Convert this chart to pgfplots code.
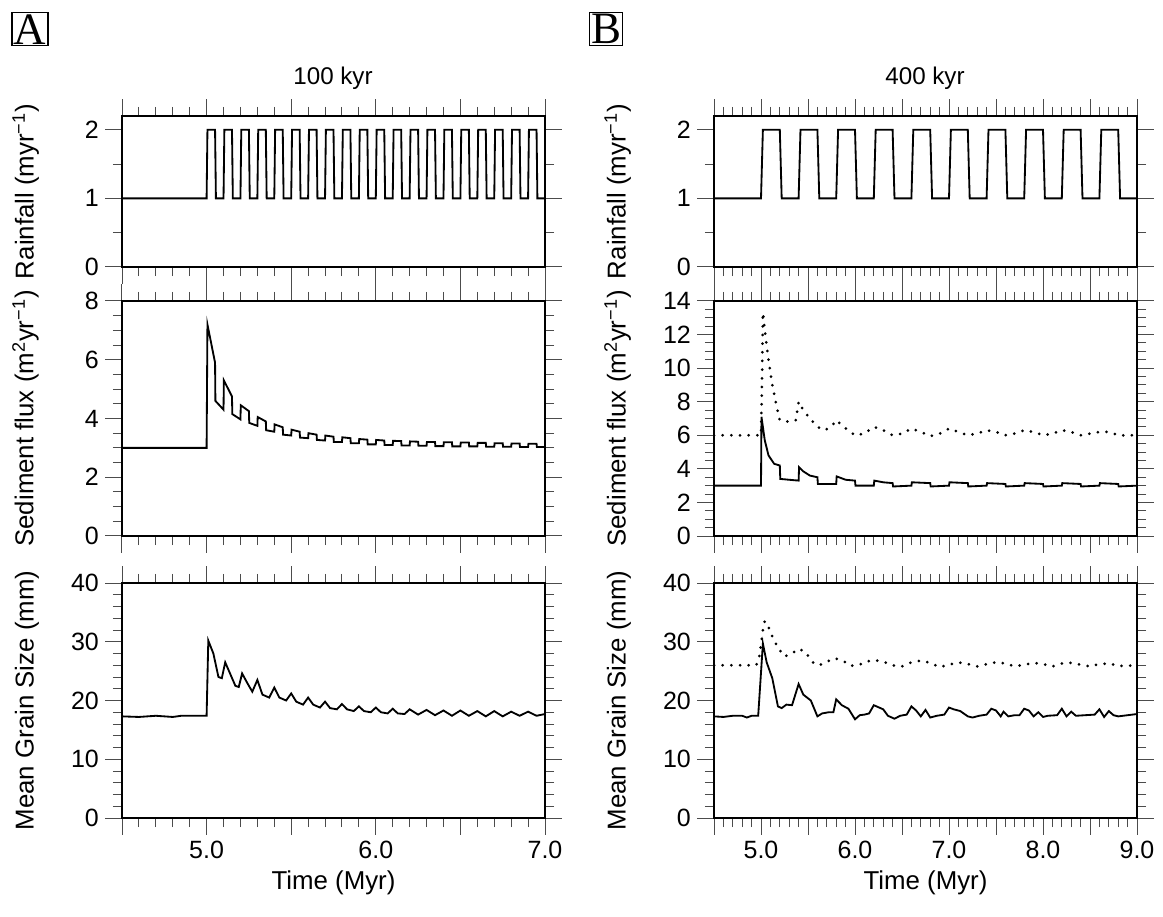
\documentclass[border=0pt]{standalone}
\usepackage{pgfplots}
\pgfplotsset{compat=1.18}
\usepackage{fontspec}
\setmainfont{Liberation Sans}
\newfontfamily\seriffont{Liberation Serif}
\pgfplotsset{
  base/.style={scale only axis, width=253.8pt, anchor=north west,
    xmin=4.5, tick align=outside, line width=1.1pt,
    major tick length=10pt, minor tick length=5.5pt,
    every tick/.style={line width=0.6pt, black!70},
    minor x tick num=4, minor y tick num=1,
    tick label style={font=\fontsize{15}{18}\selectfont},
    label style={font=\fontsize{15.5}{18}\selectfont},
    /pgf/number format/assume math mode=true,
    every axis y label/.style={at={(axis description cs:0,0.5)}, rotate=90, anchor=south, yshift=46pt, font=\fontsize{15.5}{18}\selectfont},
    cycle list={{black, no markers, solid}},
    every axis plot/.append style={line width=1.1pt, black, no markers}},
  colA/.style={base, xmax=7.0, xtick={4.5,5.0,5.5,6.0,6.5,7.0}},
  colB/.style={base, xmax=9.0, xtick={4.5,5.0,5.5,6.0,6.5,7.0,7.5,8.0,8.5,9.0}},
  dots/.style={black, no markers, line width=1.8pt, dash pattern=on 0pt off 5.2pt, line cap=round},
}
\begin{document}
\begin{tikzpicture}
\path[use as bounding box] (0,0) rectangle (697.8pt,-550.2pt);
\node[draw, line width=0.9pt, inner sep=1pt, font=\seriffont\fontsize{27}{29}\selectfont] at (18pt,-17.5pt) {A};
\node[draw, line width=0.9pt, inner sep=1pt, font=\seriffont\fontsize{27}{29}\selectfont] at (363.6pt,-17.5pt) {B};
\node[font=\fontsize{14.5}{16}\selectfont] at (199.8pt,-46.8pt) {100 kyr};
\node[font=\fontsize{14.5}{16}\selectfont] at (555pt,-46.8pt) {400 kyr};
% ---------- Column A
\begin{axis}[colA, at={(73.2pt,-69.6pt)}, height=90.6pt, ymin=0, ymax=2.2, ytick={0,1,2}, minor ytick={0.5,1.5}, minor y tick num=0,
  xticklabels={}, ylabel={Rainfall (myr\textsuperscript{−1})}]
\addplot coordinates {(4.5,1)(5.0,1)(5.005,2)(5.05,2)(5.055,1)(5.1,1)(5.105,2)(5.15,2)(5.155,1)(5.2,1)(5.205,2)(5.25,2)(5.255,1)(5.3,1)(5.305,2)(5.35,2)(5.355,1)(5.4,1)(5.405,2)(5.45,2)(5.455,1)(5.5,1)(5.505,2)(5.55,2)(5.555,1)(5.6,1)(5.605,2)(5.65,2)(5.655,1)(5.7,1)(5.705,2)(5.75,2)(5.755,1)(5.8,1)(5.805,2)(5.85,2)(5.855,1)(5.9,1)(5.905,2)(5.95,2)(5.955,1)(6.0,1)(6.005,2)(6.05,2)(6.055,1)(6.1,1)(6.105,2)(6.15,2)(6.155,1)(6.2,1)(6.205,2)(6.25,2)(6.255,1)(6.3,1)(6.305,2)(6.35,2)(6.355,1)(6.4,1)(6.405,2)(6.45,2)(6.455,1)(6.5,1)(6.505,2)(6.55,2)(6.555,1)(6.6,1)(6.605,2)(6.65,2)(6.655,1)(6.7,1)(6.705,2)(6.75,2)(6.755,1)(6.8,1)(6.805,2)(6.85,2)(6.855,1)(6.9,1)(6.905,2)(6.95,2)(6.955,1)(7.0,1)};
\end{axis}
\begin{axis}[colA, at={(73.2pt,-180.6pt)}, height=141pt, ymin=0, ymax=8, ytick={0,2,4,6,8}, minor y tick num=3,
  xticklabels={}, ylabel={Sediment flux (m\textsuperscript{2}yr\textsuperscript{−1})}]
\addplot coordinates {(4.5,3)(5.0,3)(5.005,7.2)(5.05,5.9)(5.052,4.6)(5.1,4.3)(5.102,5.3)(5.15,4.75)(5.152,4.15)(5.2,3.97)(5.202,4.45)(5.25,4.25)(5.252,3.85)(5.3,3.75)(5.302,4.05)(5.35,3.9)(5.352,3.6)(5.4,3.55)(5.402,3.8)(5.45,3.7)(5.452,3.45)(5.5,3.42)(5.502,3.62)(5.55,3.55)(5.552,3.35)(5.6,3.33)(5.602,3.5)(5.65,3.45)(5.652,3.27)(5.7,3.25)(5.702,3.42)(5.75,3.38)(5.752,3.2)(5.8,3.2)(5.802,3.36)(5.85,3.33)(5.852,3.16)(5.9,3.16)(5.902,3.3)(5.95,3.28)(5.952,3.12)(6.0,3.12)(6.002,3.27)(6.05,3.25)(6.052,3.1)(6.1,3.1)(6.102,3.24)(6.15,3.23)(6.152,3.08)(6.2,3.08)(6.202,3.22)(6.25,3.21)(6.252,3.07)(6.3,3.07)(6.302,3.2)(6.35,3.2)(6.352,3.06)(6.4,3.06)(6.402,3.19)(6.45,3.19)(6.452,3.05)(6.5,3.05)(6.502,3.18)(6.55,3.18)(6.552,3.05)(6.6,3.05)(6.602,3.17)(6.65,3.17)(6.652,3.04)(6.7,3.04)(6.702,3.16)(6.75,3.16)(6.752,3.04)(6.8,3.04)(6.802,3.15)(6.85,3.15)(6.852,3.03)(6.9,3.03)(6.902,3.14)(6.95,3.14)(6.952,3.03)(7.0,3.03)};
\end{axis}
\begin{axis}[colA, at={(73.2pt,-349.8pt)}, height=141pt, ymin=0, ymax=40, ytick={0,10,20,30,40}, minor y tick num=4,
  xticklabels={,5.0,,6.0,,7.0}, xlabel={Time (Myr)}, ylabel={Mean Grain Size (mm)}]
\addplot coordinates {(4.5,17.3)(4.6,17.2)(4.7,17.4)(4.8,17.2)(4.85,17.4)(4.95,17.4)(5.0,17.4)(5.01,30.2)(5.04,28)(5.07,24)(5.09,23.8)(5.11,26.5)(5.14,24.5)(5.17,22.5)(5.19,22.3)(5.21,24.6)(5.24,23)(5.27,21.5)(5.3,23.5)(5.33,21)(5.37,20.5)(5.4,22.2)(5.43,20.5)(5.47,20)(5.5,21.2)(5.53,19.8)(5.57,19.3)(5.6,20.5)(5.63,19.3)(5.67,18.8)(5.7,19.8)(5.73,18.7)(5.77,18.5)(5.8,19.4)(5.83,18.5)(5.87,18.2)(5.9,19)(5.93,18.2)(5.97,18)(6.0,18.8)(6.03,18)(6.07,17.8)(6.1,18.6)(6.13,17.8)(6.17,17.7)(6.2,18.5)(6.25,17.6)(6.3,18.4)(6.35,17.5)(6.4,18.3)(6.45,17.4)(6.5,18.3)(6.55,17.4)(6.6,18.2)(6.65,17.3)(6.7,18.2)(6.75,17.3)(6.8,18.1)(6.85,17.4)(6.9,18.1)(6.95,17.4)(7.0,17.7)};
\end{axis}
% ---------- Column B
\begin{axis}[colB, at={(428.4pt,-69.6pt)}, height=90.6pt, ymin=0, ymax=2.2, ytick={0,1,2}, minor ytick={0.5,1.5}, minor y tick num=0,
  xticklabels={}, ylabel={Rainfall (myr\textsuperscript{−1})}]
\addplot coordinates {(4.5,1)(5.0,1)(5.02,2)(5.2,2)(5.22,1)(5.4,1)(5.42,2)(5.6,2)(5.62,1)(5.8,1)(5.82,2)(6.0,2)(6.02,1)(6.2,1)(6.22,2)(6.4,2)(6.42,1)(6.6,1)(6.62,2)(6.8,2)(6.82,1)(7.0,1)(7.02,2)(7.2,2)(7.22,1)(7.4,1)(7.42,2)(7.6,2)(7.62,1)(7.8,1)(7.82,2)(8.0,2)(8.02,1)(8.2,1)(8.22,2)(8.4,2)(8.42,1)(8.6,1)(8.62,2)(8.8,2)(8.82,1)(9.0,1)};
\end{axis}
\begin{axis}[colB, at={(428.4pt,-180.6pt)}, height=141pt, ymin=0, ymax=14, ytick={0,2,4,6,8,10,12,14}, minor y tick num=3,
  xticklabels={}, ylabel={Sediment flux (m\textsuperscript{2}yr\textsuperscript{−1})}]
\addplot[dots] coordinates {(4.5,6)(5.0,6)(5.01,9)(5.02,13.3)(5.05,11.8)(5.08,10.5)(5.12,9)(5.17,7.6)(5.2,6.9)(5.3,6.8)(5.37,6.9)(5.4,8.0)(5.45,7.5)(5.52,7.0)(5.6,6.5)(5.68,6.3)(5.76,6.6)(5.8,6.9)(5.88,6.5)(5.95,6.2)(6.0,6.0)(6.1,6.1)(6.2,6.5)(6.3,6.3)(6.4,6.0)(6.5,6.1)(6.6,6.4)(6.7,6.2)(6.8,5.95)(6.9,6.1)(7.0,6.4)(7.1,6.2)(7.2,6.0)(7.3,6.1)(7.4,6.3)(7.5,6.2)(7.6,6.0)(7.7,6.1)(7.8,6.3)(7.9,6.2)(8.0,6.0)(8.1,6.1)(8.2,6.3)(8.3,6.2)(8.4,6.0)(8.5,6.1)(8.6,6.2)(8.7,6.2)(8.8,6.0)(9.0,6.0)};
\addplot coordinates {(4.5,3)(5.0,3)(5.005,7.1)(5.04,5.7)(5.08,4.8)(5.14,4.3)(5.2,4.2)(5.205,3.4)(5.3,3.35)(5.4,3.3)(5.405,4.1)(5.45,3.85)(5.52,3.6)(5.6,3.5)(5.605,3.1)(5.8,3.1)(5.805,3.55)(5.9,3.35)(6.0,3.3)(6.005,3.0)(6.2,3.0)(6.205,3.3)(6.3,3.2)(6.4,3.15)(6.405,2.95)(6.6,3.0)(6.605,3.2)(6.8,3.15)(6.805,2.95)(7.0,3.0)(7.005,3.2)(7.2,3.15)(7.205,2.95)(7.4,3.0)(7.405,3.15)(7.6,3.1)(7.605,2.95)(7.8,3.0)(7.805,3.15)(8.0,3.1)(8.005,2.95)(8.2,3.0)(8.205,3.15)(8.4,3.1)(8.405,2.95)(8.6,3.0)(8.605,3.15)(8.8,3.1)(8.805,2.95)(9.0,3.0)};
\end{axis}
\begin{axis}[colB, at={(428.4pt,-349.8pt)}, height=141pt, ymin=0, ymax=40, ytick={0,10,20,30,40}, minor y tick num=4,
  xticklabels={,5.0,,6.0,,7.0,,8.0,,9.0}, xlabel={Time (Myr)}, ylabel={Mean Grain Size (mm)}]
\addplot[dots] coordinates {(4.5,26)(4.95,26)(4.98,27.3)(5.0,29.5)(5.02,32)(5.04,33.5)(5.08,32.5)(5.13,30.5)(5.18,29)(5.25,27.5)(5.32,27.9)(5.4,28.8)(5.47,28.3)(5.55,26.5)(5.62,26)(5.7,26.6)(5.78,27.2)(5.88,26.7)(5.95,25.9)(6.05,26.1)(6.12,26.6)(6.2,26.9)(6.3,26.6)(6.4,26.0)(6.5,25.8)(6.6,26.5)(6.7,26.8)(6.8,26.4)(6.9,25.7)(7.0,26.1)(7.1,26.5)(7.2,26.2)(7.3,25.8)(7.4,26.2)(7.5,26.5)(7.6,26.3)(7.7,25.8)(7.8,26.1)(7.9,26.4)(8.0,26.2)(8.1,25.8)(8.2,26.3)(8.3,26.4)(8.4,26.1)(8.5,25.8)(8.6,26.2)(8.7,26.3)(8.8,25.9)(8.9,25.9)(9.0,26.0)};
\addplot coordinates {(4.5,17.3)(4.6,17.2)(4.7,17.4)(4.8,17.4)(4.85,17.1)(4.9,17.4)(4.97,17.4)(5.02,29.7)(5.06,26.5)(5.12,23.8)(5.18,19)(5.22,18.7)(5.27,19.3)(5.33,19.2)(5.4,22.8)(5.45,21)(5.53,20)(5.6,17.3)(5.65,17.8)(5.72,18)(5.77,18)(5.8,20.2)(5.86,19.2)(5.93,18.6)(6.0,16.8)(6.05,17.5)(6.1,17.6)(6.15,17.8)(6.2,19.2)(6.3,18.5)(6.35,17.4)(6.42,16.9)(6.48,17.4)(6.55,17.6)(6.6,19.0)(6.65,18.3)(6.7,17.3)(6.75,18.4)(6.8,17.1)(6.87,17.4)(6.95,17.6)(7.0,18.8)(7.05,18.5)(7.12,18.2)(7.2,17.3)(7.25,17.1)(7.32,17.4)(7.4,17.6)(7.45,18.6)(7.5,18.3)(7.55,17.3)(7.58,18.1)(7.63,17.3)(7.7,17.5)(7.75,17.5)(7.8,18.6)(7.85,18.3)(7.9,17.3)(7.95,18.0)(8.0,17.2)(8.05,17.4)(8.15,17.5)(8.2,18.6)(8.25,17.3)(8.3,18.1)(8.35,17.4)(8.45,17.5)(8.55,17.6)(8.6,18.5)(8.65,17.2)(8.7,18.2)(8.75,17.5)(8.8,17.3)(8.9,17.5)(9.0,17.7)};
\end{axis}
\end{tikzpicture}
\end{document}
